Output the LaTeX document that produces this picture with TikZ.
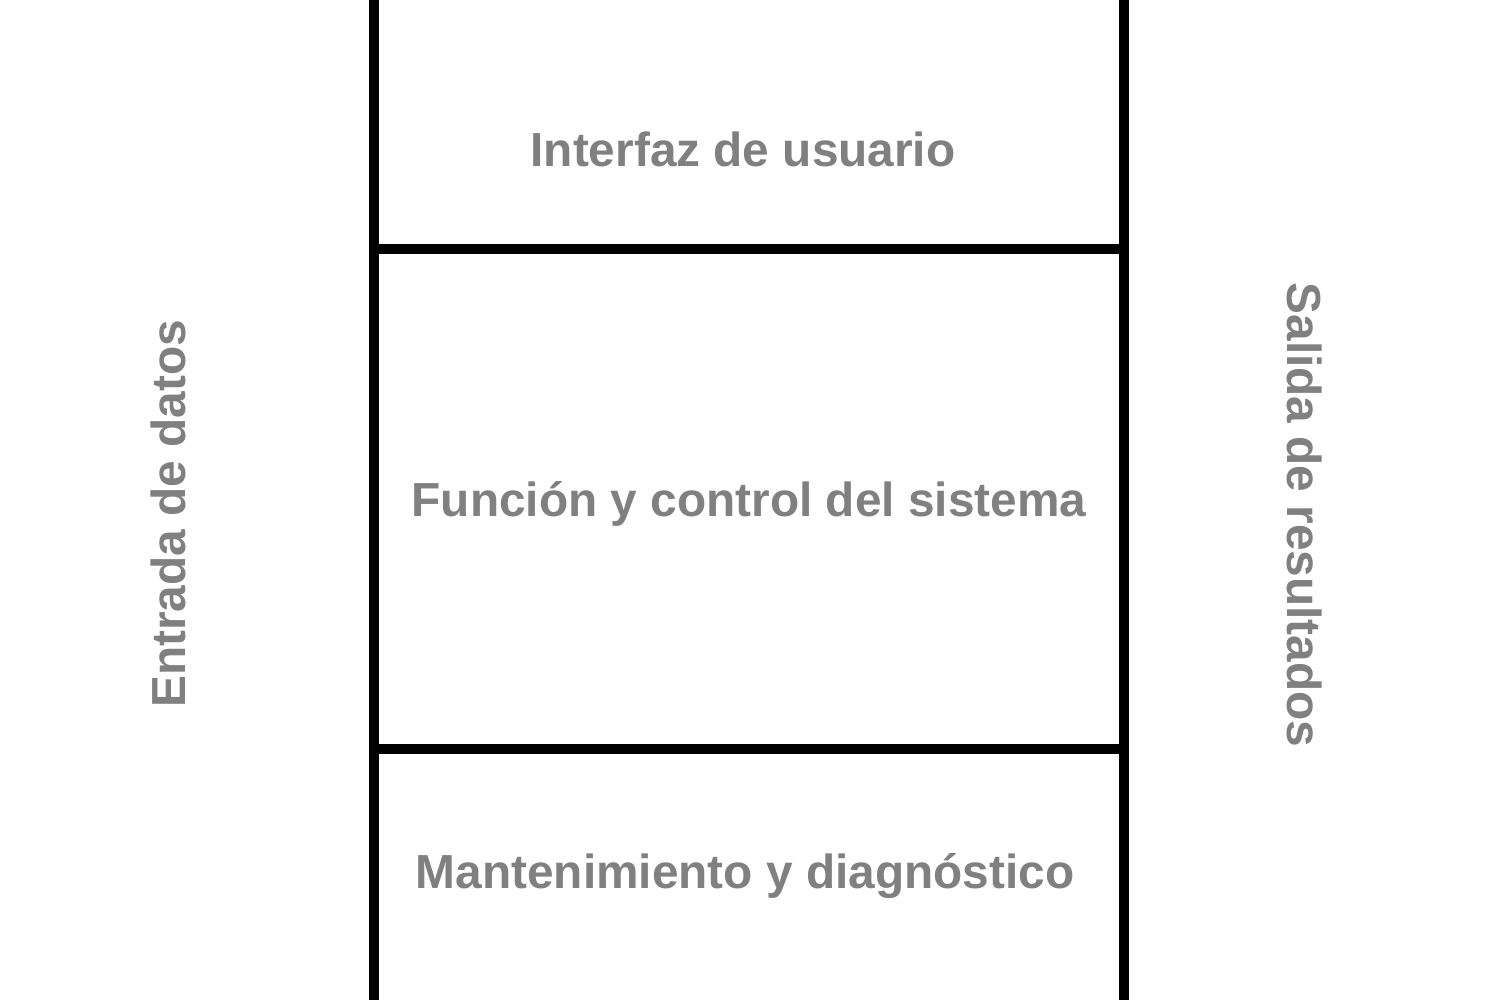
\documentclass[tikz,border=0pt]{standalone}
\usepackage{fontspec}
\setmainfont{Liberation Sans}
\begin{document}
\begin{tikzpicture}[x=0.1cm, y=0.1cm, every node/.style={font=\fontsize{13.6pt}{16pt}\selectfont\bfseries, text=gray, align=center}]
        % Frame - fixed size
        \useasboundingbox (0,0) rectangle (150,100);

        % Columns
        \draw[line width=3.1pt] (37.4,0) -- (37.4,100);
        \draw[line width=3.1pt] (112.4,0) -- (112.4,100);

        % Layer borders
        \draw[line width=3.1pt] (37.4,75.1) -- (112.4,75.1);
        \draw[line width=3.1pt] (37.4,25.1) -- (112.4,25.1);

        % Layers
        \node (ui) at (74.3,85.1) {Interfaz de usuario};
        \node (core) at (74.9,49.6) {Función y control del sistema};
        \node (maint) at (74.5,12.4) {Mantenimiento y diagnóstico};

        % Input / Output
        \node[rotate=90] (input) at (16.8,48.6) {Entrada de datos};
        \node[rotate=-90] (output) at (130.5,48.5) {Salida de resultados};
    \end{tikzpicture}
\end{document}
